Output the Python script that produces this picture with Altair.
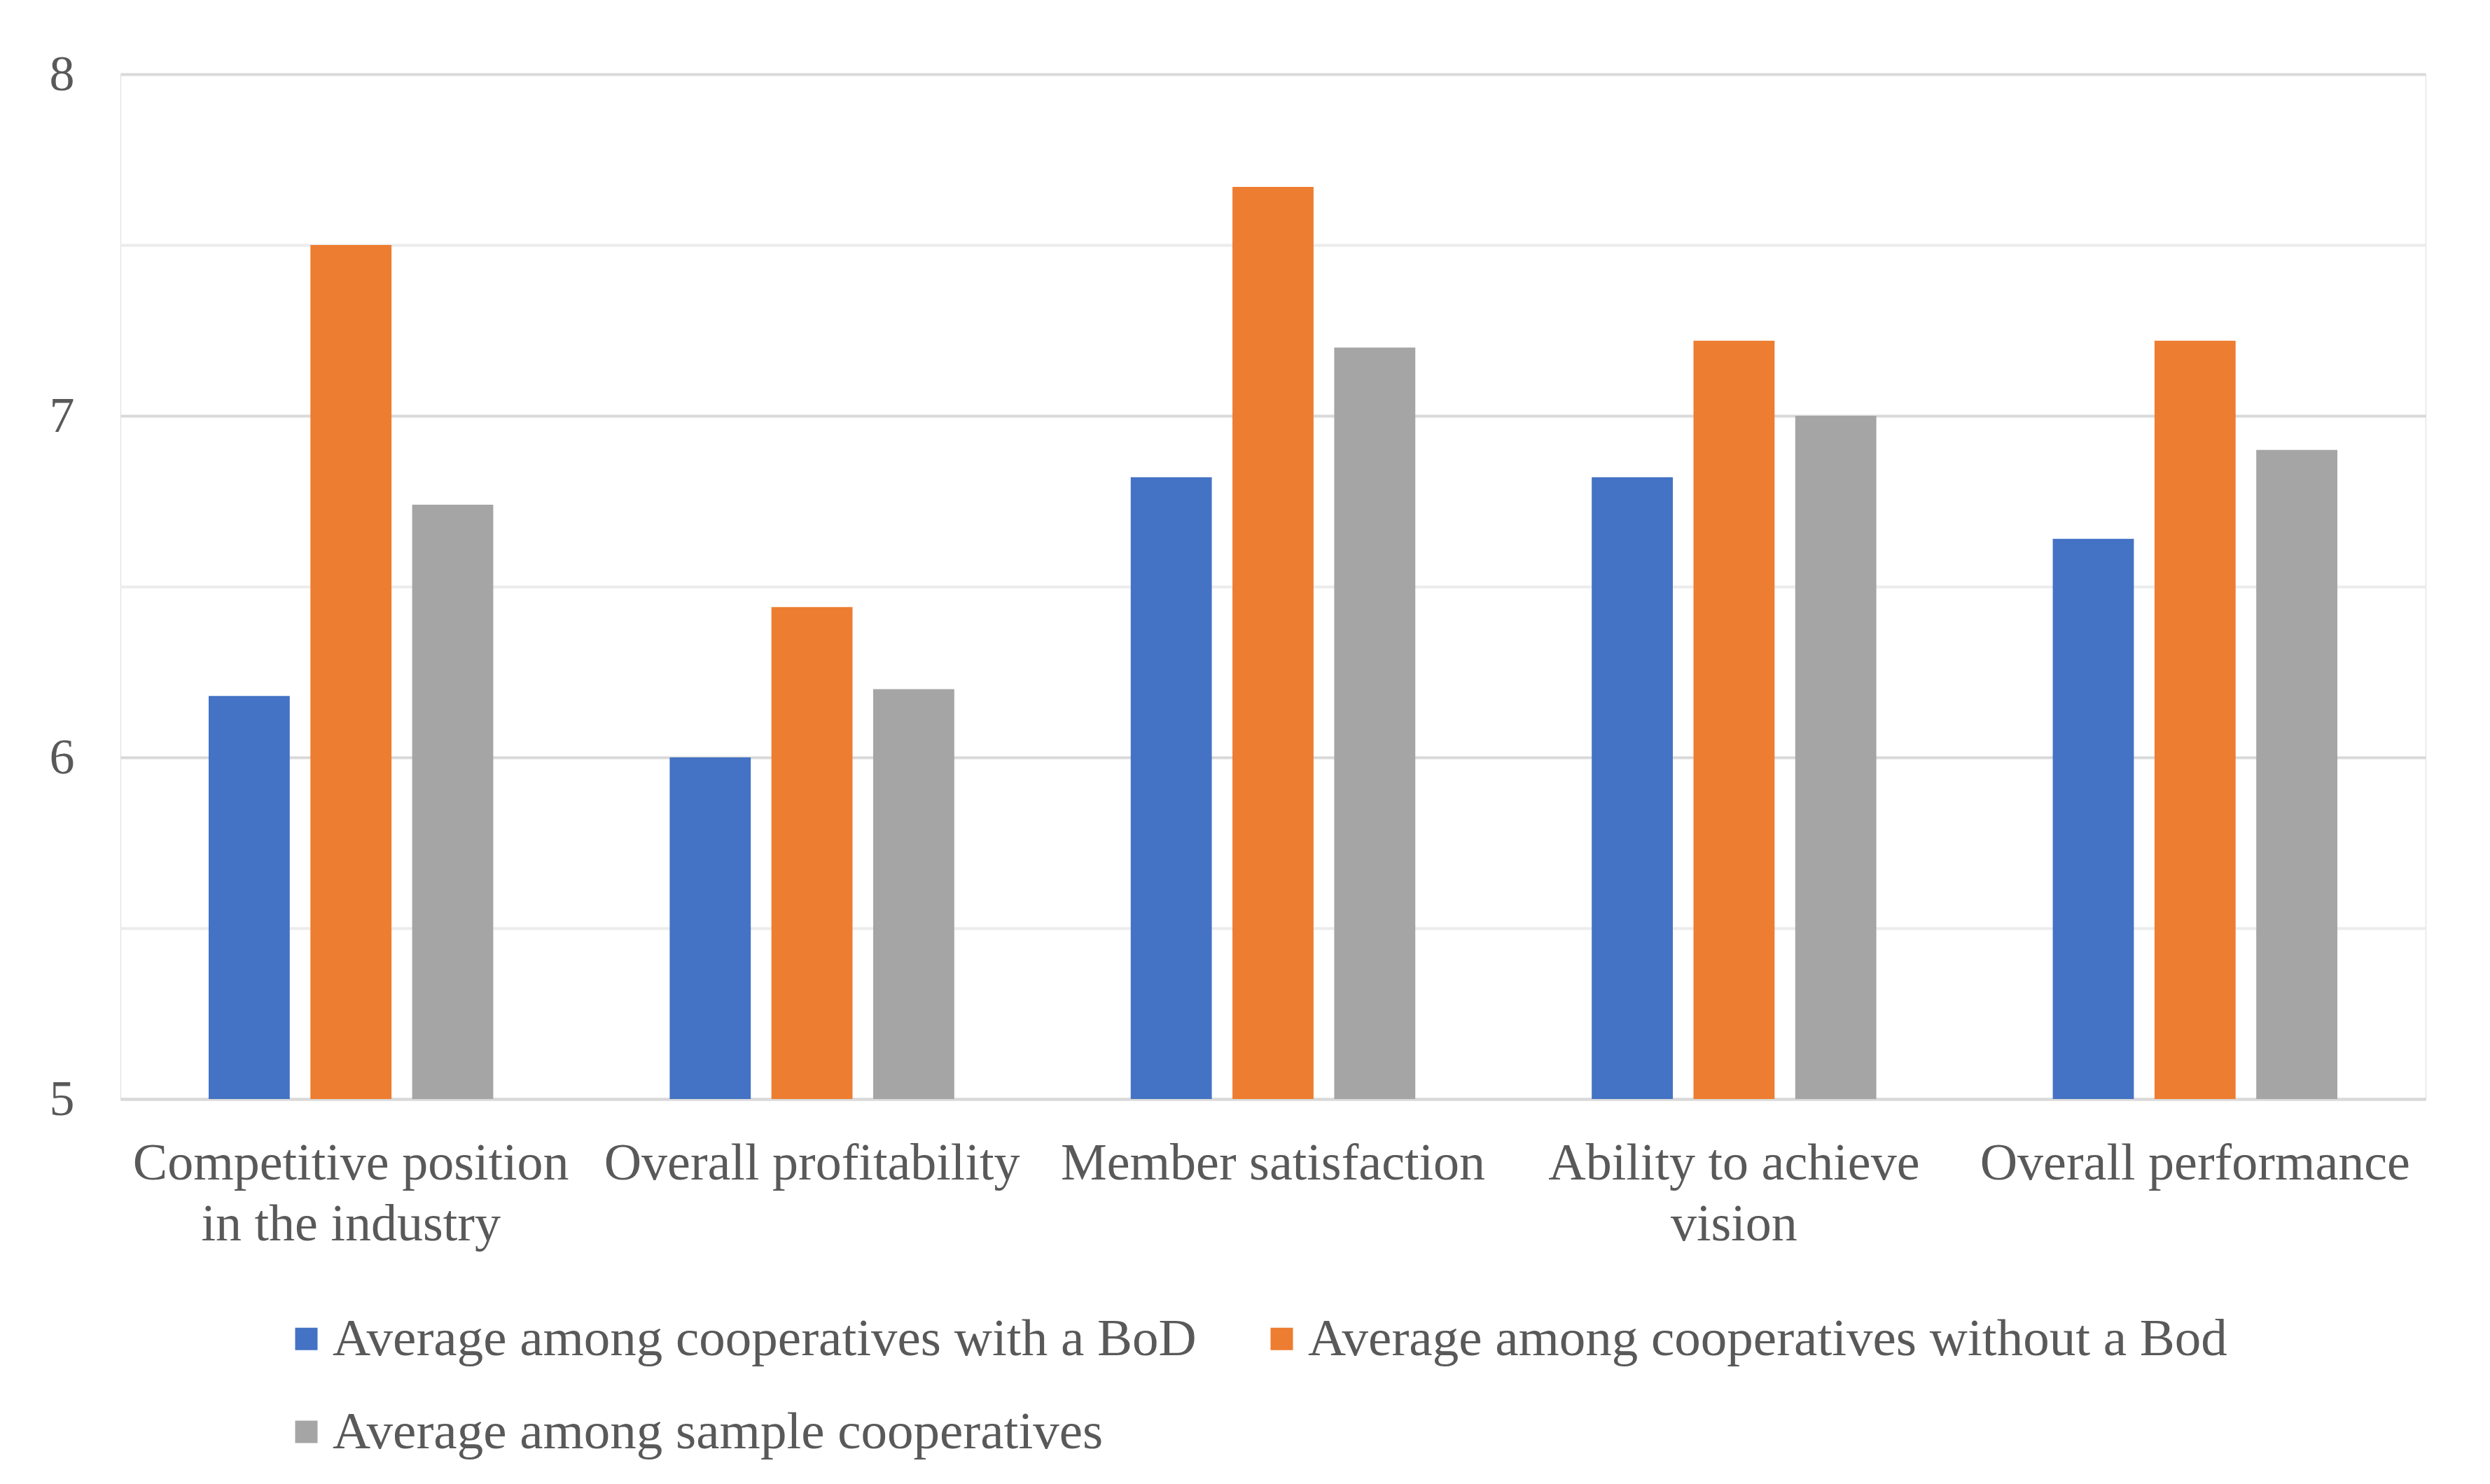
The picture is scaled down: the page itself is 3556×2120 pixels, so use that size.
import altair as alt
import pandas as pd

categories = [
    "Competitive position\nin the industry",
    "Overall profitability",
    "Member satisfaction",
    "Ability to achieve\nvision",
    "Overall performance",
]
series = [
    "Average among cooperatives with a BoD",
    "Average among cooperatives without a Bod",
    "Average among sample cooperatives",
]
with_bod = [6.18, 6.00, 6.82, 6.82, 6.64]
without_bod = [7.50, 6.44, 7.67, 7.22, 7.22]
sample = [6.74, 6.20, 7.20, 7.00, 6.90]
colors = ["#4472C4", "#ED7D31", "#A5A5A5"]
y_ticks = [5, 5.5, 6, 6.5, 7, 7.5, 8]

rows = []
for s, vals in zip(series, [with_bod, without_bod, sample]):
    for c, v in zip(categories, vals):
        rows.append({"category": c, "series": s, "value": v})
df = pd.DataFrame(rows)

FONT = "Liberation Serif"
TXT = "#595959"

chart = alt.Chart(df).mark_bar().encode(
    x=alt.X(
        "category:N",
        sort=categories,
        scale=alt.Scale(paddingInner=0, paddingOuter=0),
        axis=alt.Axis(
            title=None,
            labelAngle=0,
            labelExpr="split(datum.label, '\\n')",
            labelFont=FONT,
            labelFontSize=74,
            labelColor=TXT,
            labelLineHeight=87,
            labelPadding=56,
            labelLimit=2000,
            ticks=False,
            domain=True,
            domainColor="#d9d9d9",
            domainWidth=4,
            grid=False,
        ),
    ),
    xOffset=alt.XOffset(
        "series:N",
        sort=series,
        scale=alt.Scale(paddingInner=0.203, paddingOuter=0.867),
    ),
    y=alt.Y(
        "value:Q",
        scale=alt.Scale(domain=[5, 8], nice=False, zero=False),
        axis=alt.Axis(
            title=None,
            values=y_ticks,
            labelExpr="datum.value % 1 == 0 ? format(datum.value, 'd') : ''",
            labelFont=FONT,
            labelFontSize=72,
            labelColor=TXT,
            labelPadding=66,
            ticks=False,
            domain=False,
            grid=True,
            gridColor={"condition": {"test": "datum.value % 1 == 0", "value": "#d9d9d9"}, "value": "#ececec"},
            gridWidth=4,
        ),
    ),
    y2=alt.datum(5),
    color=alt.Color(
        "series:N",
        sort=series,
        scale=alt.Scale(domain=series, range=colors),
        legend=alt.Legend(
            title=None,
            orient="none",
            legendX=228,
            legendY=1769,
            direction="horizontal",
            columns=2,
            columnPadding=84,
            rowPadding=57,
            symbolType="square",
            symbolSize=1024,
            symbolStrokeWidth=0,
            labelFont=FONT,
            labelFontSize=75,
            labelColor=TXT,
            labelOffset=0,
            labelLimit=2000,
        ),
    ),
).properties(
    width=3292,
    height=1464,
    padding={"left": 62, "top": 62, "right": 60, "bottom": 5},
).configure_view(stroke="transparent", strokeWidth=0).configure(background="white")

chart.save("out.html", embed_options={"renderer": "svg", "actions": False})
